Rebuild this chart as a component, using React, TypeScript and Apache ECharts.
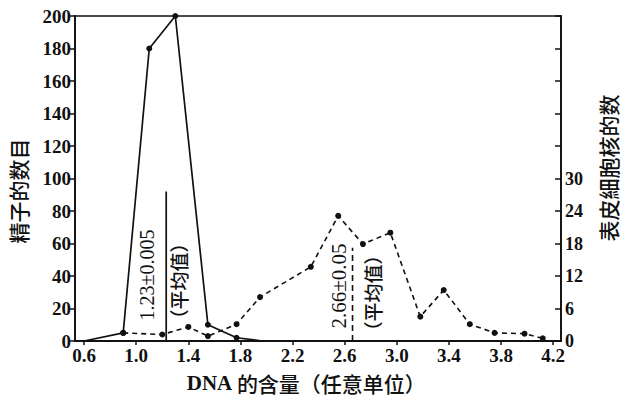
import { useEffect, useRef } from "react";
import * as echarts from "echarts";

// Tick labels
const xTicks = [0.6, 1.0, 1.4, 1.8, 2.2, 2.6, 3.0, 3.4, 3.8, 4.2];
// Sperm counts (left axis, solid line)
const spermX = [0.6, 0.9, 1.1, 1.3, 1.55, 1.77, 1.97];
const spermCount = [0, 5, 180, 200, 10, 2, 0];
// Epidermal nuclei counts (right axis, dashed line)
const nucleiX = [0.9, 1.2, 1.4, 1.55, 1.77, 1.95, 2.34, 2.55, 2.74, 2.95, 3.18, 3.36, 3.56, 3.75, 3.98, 4.12];
const nucleiCount = [1.5, 1.2, 2.6, 0.9, 3.1, 8.1, 13.7, 23.1, 17.9, 20, 4.5, 9.4, 3.1, 1.5, 1.35, 0.5];
// Mean values
const spermMean = 1.23;
const spermMeanTop = 92;
const nucleiMean = 2.66;
const nucleiMeanTop = 17.2;

const SERIF = "'Liberation Serif', 'DejaVu Serif', serif";
const CJK = "'Noto Sans CJK SC', 'Noto Sans', sans-serif";
const INK = "#111";

export default function App() {
  const ref = useRef<HTMLDivElement>(null);
  useEffect(() => {
    document.body.style.margin = "0";
    if (!ref.current) return;
    const chart = echarts.init(ref.current, undefined, { renderer: "svg" });
    const last = spermX.length - 1;
    chart.setOption({
      animation: false,
      backgroundColor: "#fff",
      grid: {
        left: 75,
        right: 63,
        top: 16,
        bottom: 57,
        show: true,
        borderColor: INK,
        borderWidth: 1.5,
      },
      xAxis: {
        type: "value",
        min: 0.53,
        max: 4.26,
        axisLine: { show: true, onZero: false, lineStyle: { color: INK, width: 2 } },
        axisTick: { show: true, customValues: xTicks, length: 4, lineStyle: { color: INK, width: 1.5 } },
        axisLabel: {
          customValues: xTicks,
          formatter: (v: number) => v.toFixed(1),
          color: INK,
          fontFamily: SERIF,
          fontWeight: "bold",
          fontSize: 19,
          margin: 5,
        },
        splitLine: { show: false },
      },
      yAxis: [
        {
          type: "value",
          min: 0,
          max: 200,
          interval: 20,
          position: "left",
          axisLine: { show: true, lineStyle: { color: INK, width: 1.8 } },
          axisTick: { show: true, length: 5, lineStyle: { color: INK, width: 1.5 } },
          axisLabel: { color: INK, fontFamily: SERIF, fontWeight: "bold", fontSize: 19, margin: 4 },
          splitLine: { show: false },
        },
        {
          type: "value",
          min: 0,
          max: 60,
          interval: 6,
          position: "right",
          axisLine: { show: true, lineStyle: { color: INK, width: 1.8 } },
          axisTick: { show: true, inside: true, length: 6, lineStyle: { color: INK, width: 1.5 } },
          axisLabel: {
            formatter: (v: number) => (v <= 30 ? String(v) : ""),
            color: INK,
            fontFamily: SERIF,
            fontWeight: "bold",
            fontSize: 18,
            margin: 4,
          },
          splitLine: { show: false },
        },
      ],
      series: [
        {
          name: "精子的数目",
          type: "line",
          yAxisIndex: 0,
          data: spermX.map((x, i) => ({
            value: [x, spermCount[i]],
            symbol: i === 0 || i === last ? "none" : "circle",
          })),
          symbolSize: 6,
          itemStyle: { color: INK },
          lineStyle: { color: INK, width: 1.7 },
          z: 3,
        },
        {
          name: "表皮細胞核的数",
          type: "line",
          yAxisIndex: 1,
          data: nucleiX.map((x, i) => [x, nucleiCount[i]]),
          symbol: "circle",
          symbolSize: 6,
          itemStyle: { color: INK },
          lineStyle: { color: INK, width: 1.6, type: [5, 4] },
          z: 3,
        },
        {
          name: "mean1",
          type: "line",
          yAxisIndex: 0,
          data: [
            [spermMean, 0],
            [spermMean, spermMeanTop],
          ],
          symbol: "none",
          lineStyle: { color: INK, width: 1.7 },
        },
        {
          name: "mean2",
          type: "line",
          yAxisIndex: 1,
          data: [
            [nucleiMean, 0],
            [nucleiMean, nucleiMeanTop],
          ],
          symbol: "none",
          lineStyle: { color: INK, width: 1.6, type: [6, 4] },
        },
      ],
      graphic: [
        {
          type: "text",
          x: 18,
          y: 191,
          rotation: Math.PI / 2,
          style: { text: "精子的数目", font: `500 21px ${CJK}`, fill: INK, align: "center", verticalAlign: "middle" },
        },
        {
          type: "text",
          x: 608,
          y: 168,
          rotation: Math.PI / 2,
          style: { text: "表皮細胞核的数", font: `500 21px ${CJK}`, fill: INK, align: "center", verticalAlign: "middle" },
        },
        {
          type: "text",
          x: 306,
          y: 383,
          style: {
            rich: {
              a: { fontFamily: SERIF, fontWeight: "bold", fontSize: 21, fill: INK },
              b: { fontFamily: CJK, fontWeight: 500, fontSize: 21, fill: INK },
            },
            text: "{a|DNA }{b|的含量（任意单位）}",
            align: "center",
            verticalAlign: "middle",
          },
        },
        {
          type: "text",
          x: 147,
          y: 275,
          rotation: Math.PI / 2,
          style: { text: "1.23±0.005", font: `20px ${SERIF}`, fill: INK, align: "center", verticalAlign: "middle" },
        },
        {
          type: "text",
          x: 178,
          y: 281,
          rotation: Math.PI / 2,
          style: { text: "（平均值）", font: `500 19px ${CJK}`, fill: INK, align: "center", verticalAlign: "middle" },
        },
        {
          type: "text",
          x: 339,
          y: 286,
          rotation: Math.PI / 2,
          style: { text: "2.66±0.05", font: `21px ${SERIF}`, fill: INK, align: "center", verticalAlign: "middle" },
        },
        {
          type: "text",
          x: 372,
          y: 293,
          rotation: Math.PI / 2,
          style: { text: "（平均值）", font: `500 19px ${CJK}`, fill: INK, align: "center", verticalAlign: "middle" },
        },
      ],
    });
    return () => chart.dispose();
  }, []);
  return (
    <div
      ref={ref}
      style={{ position: "fixed", left: 0, top: 0, width: 624, height: 398, background: "#fff" }}
    />
  );
}
